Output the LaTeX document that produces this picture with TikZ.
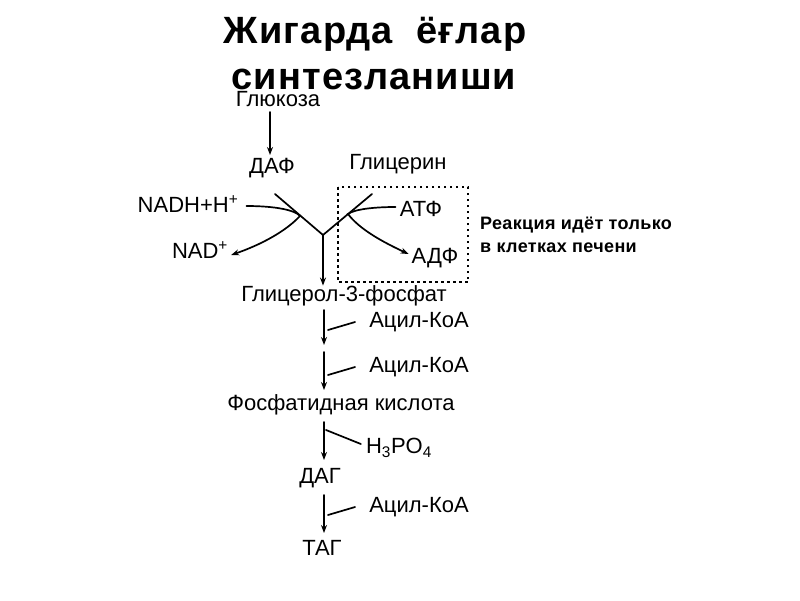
\documentclass[tikz,border=0pt]{standalone}
\usepackage{fontspec}
\setmainfont{Liberation Sans}
\usetikzlibrary{arrows.meta,calc}
\begin{document}
\begin{tikzpicture}[x=1pt,y=-1pt,
  lbl/.style={inner sep=0pt,font=\fontsize{22}{24}\selectfont},
  ttl/.style={inner sep=0pt,anchor=base,font=\fontsize{38}{40}\selectfont\bfseries\addfontfeature{LetterSpace=3}},
  ln/.style={line width=1.7pt,line cap=round},
  arr/.style={ln,-{Stealth[length=8pt,width=6pt]}},
  box/.style={line width=2pt,dash pattern=on 2.5pt off 3.5pt}]
\useasboundingbox (0,0) rectangle (800,600);
\fill[white] (0,0) rectangle (800,600);
% title
\node[ttl] (t1) at (375,43) {Жигарда\ \ ёғлар};
\node[ttl] (t2) at (374,89) {синтезланиши};
% labels
\node[lbl] (glu) at (278,99) {Глюкоза};
\node[lbl] (daf) at (272,168) {ДАФ};
\node[lbl] (glyc) at (398,164) {Глицерин};
\node[lbl] (nadh) at (188,204) {NADH+H\textsuperscript{+}};
\node[lbl] (nad) at (200,250) {NAD\textsuperscript{+}};
\node[lbl] (atf) at (421,209) {АТФ};
\node[lbl] (adf) at (435,258) {АДФ};
\node[inner sep=0pt,align=left,anchor=west,font=\fontsize{18}{23}\selectfont\bfseries\addfontfeature{LetterSpace=2}] (reac) at (480,235) {Реакция идёт только\\в клетках печени};
\node[lbl] (g3p) at (344,296) {Глицерол-3-фосфат};
\node[lbl] (acyl1) at (419,322) {Ацил-КоА};
\node[lbl] (acyl2) at (419,367) {Ацил-КоА};
\node[lbl] (pa) at (341,405) {Фосфатидная кислота};
\node[lbl] (h3po4) at (399,448) {H\textsubscript{3}PO\textsubscript{4}};
\node[lbl] (dag) at (320,478) {ДАГ};
\node[lbl] (acyl3) at (419,507) {Ацил-КоА};
\node[lbl] (tag) at (322,548) {ТАГ};
% dashed box
\draw[box] (338,187) rectangle (468,282);
% coordinates
\coordinate (L) at (275,194);
\coordinate (R) at (372,194);
\coordinate (J) at (323,235);
\coordinate (a1) at (324,310);
\coordinate (a2) at (324,345);
\coordinate (b1) at (324,352);
\coordinate (b2) at (324,390);
\coordinate (c1) at (324,422);
\coordinate (c2) at (324,460);
\coordinate (d1) at (324,495);
\coordinate (d2) at (324,533);
% connectors
\draw[arr] (270,112) -- (270,155);
\draw[ln] (L) -- (J) -- (R);
\draw[arr] (J) -- (J |- g3p.north);
% NADH -> NAD+
\draw[arr] ($(nadh.east)+(8,2)$) .. controls (275,206) and (295,210) .. (300,216)
  .. controls (285,232) and (260,245) .. ($(nad.east)+(3,5)$);
% ATP -> ADP
\draw[arr] ($(atf.west)+(-4,-2)$) .. controls (375,207) and (355,209) .. (348,214)
  .. controls (360,230) and (385,243) .. ($(adf.west)+(-3,-4)$);
% main chain
\draw[arr] (a1) -- (a2);
\draw[ln] ($(acyl1.west)+(-14,0)$) -- (328,330);
\draw[arr] (b1) -- (b2);
\draw[ln] ($(acyl2.west)+(-14,0)$) -- (328,375);
\draw[arr] (c1) -- (c2);
\draw[ln] (326,430) -- ($(h3po4.west)+(-5,-4)$);
\draw[arr] (d1) -- (d2);
\draw[ln] ($(acyl3.west)+(-14,0)$) -- (328,515);
\end{tikzpicture}
\end{document}
